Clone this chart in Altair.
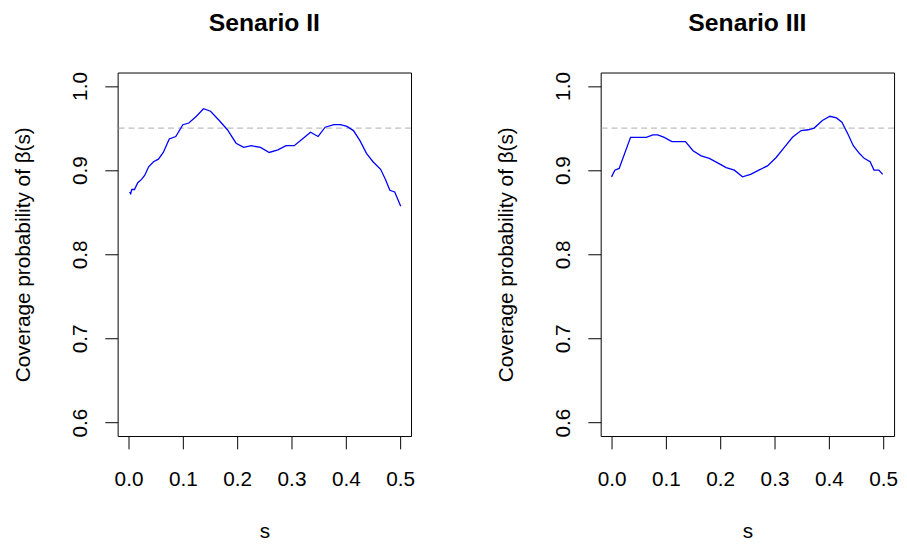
import altair as alt
import pandas as pd

# Senario II
s_2 = [0.002, 0.004, 0.006, 0.011, 0.017, 0.024, 0.030, 0.037, 0.046, 0.055, 0.064,
       0.075, 0.087, 0.100, 0.111, 0.125, 0.138, 0.151, 0.167, 0.182, 0.198, 0.212,
       0.226, 0.243, 0.259, 0.275, 0.290, 0.305, 0.320, 0.335, 0.349, 0.362, 0.378,
       0.390, 0.402, 0.414, 0.426, 0.438, 0.450, 0.464, 0.473, 0.481, 0.490, 0.501]
cov_2 = [0.874, 0.872, 0.877, 0.877, 0.885, 0.889, 0.894, 0.904, 0.910, 0.913, 0.921,
         0.937, 0.940, 0.954, 0.956, 0.964, 0.973, 0.970, 0.959, 0.948, 0.932, 0.927,
         0.929, 0.927, 0.921, 0.924, 0.929, 0.929, 0.937, 0.945, 0.940, 0.951, 0.954,
         0.954, 0.952, 0.947, 0.935, 0.920, 0.910, 0.901, 0.889, 0.876, 0.874, 0.857]

# Senario III
s_3 = [0.000, 0.006, 0.014, 0.035, 0.064, 0.076, 0.085, 0.097, 0.111, 0.136, 0.150,
       0.165, 0.180, 0.197, 0.211, 0.226, 0.241, 0.256, 0.271, 0.287, 0.303, 0.318,
       0.333, 0.349, 0.362, 0.373, 0.388, 0.402, 0.414, 0.424, 0.435, 0.445, 0.456,
       0.465, 0.476, 0.483, 0.492, 0.499]
cov_3 = [0.892, 0.900, 0.902, 0.939, 0.939, 0.942, 0.942, 0.939, 0.934, 0.934, 0.923,
         0.917, 0.914, 0.908, 0.903, 0.900, 0.892, 0.895, 0.900, 0.905, 0.915, 0.927,
         0.939, 0.947, 0.948, 0.950, 0.959, 0.964, 0.962, 0.957, 0.943, 0.929, 0.920,
         0.914, 0.910, 0.900, 0.900, 0.895]

titles = ["Senario II", "Senario III"]
nominal = [0.95]
x_ticks = [0.0, 0.1, 0.2, 0.3, 0.4, 0.5]
y_ticks = [0.6, 0.7, 0.8, 0.9, 1.0]

FONT = "Liberation Sans"


def panel(s, cov, title):
    df = pd.DataFrame({"s": s, "cov": cov})
    xs = alt.Scale(domain=[-0.02, 0.52], nice=False, zero=False)
    ys = alt.Scale(domain=[0.584, 1.016], nice=False, zero=False)
    xaxis = alt.Axis(values=x_ticks, format=".1f", title="s", domain=False, grid=False,
                     ticks=True, tickSize=13, tickColor="black", tickWidth=1,
                     labelFontSize=21, labelFont=FONT, labelColor="black",
                     labelBaseline="alphabetic", labelPadding=37, labelFlush=False,
                     labelOverlap=False, labelBound=False,
                     titleFontSize=21, titleFont=FONT, titleFontWeight="normal",
                     titleColor="black", titleBaseline="alphabetic", titleY=103)
    yaxis = alt.Axis(values=y_ticks, format=".1f", title="Coverage probability of β(s)",
                     domain=False, grid=False, ticks=True, tickSize=13, tickColor="black",
                     tickWidth=1,
                     labelFontSize=21, labelFont=FONT, labelColor="black",
                     labelAngle=270, labelAlign="center", labelBaseline="alphabetic",
                     labelPadding=19, labelFlush=False, labelOverlap=False, labelBound=False,
                     titleFontSize=21, titleFont=FONT, titleFontWeight="normal",
                     titleColor="black", titleAngle=270, titleBaseline="alphabetic",
                     titleAlign="center", titleX=-89)
    ref = alt.Chart(pd.DataFrame({"y": nominal})).mark_rule(
        color="#BEBEBE", strokeDash=[6, 4], strokeWidth=1.3
    ).encode(y=alt.Y("y:Q", scale=ys, axis=yaxis))
    line = alt.Chart(df).mark_line(color="#0000FF", strokeWidth=1.3).encode(
        x=alt.X("s:Q", scale=xs, axis=xaxis),
        y=alt.Y("cov:Q", scale=ys, axis=yaxis),
    )
    return alt.layer(ref, line).properties(
        width=297, height=368,
        title=alt.TitleParams(title, fontSize=25, font=FONT, fontWeight="bold",
                              color="black", anchor="middle", frame="group",
                              baseline="alphabetic", offset=16),
    )


chart = alt.hconcat(
    panel(s_2, cov_2, titles[0]),
    panel(s_3, cov_3, titles[1]),
    spacing=80,
).properties(
    padding={"left": 4, "top": -1, "right": 0, "bottom": 0},
    background="white",
).configure_view(stroke="black", strokeWidth=1)

chart.save("out.html", embed_options={"renderer": "svg", "actions": False})
